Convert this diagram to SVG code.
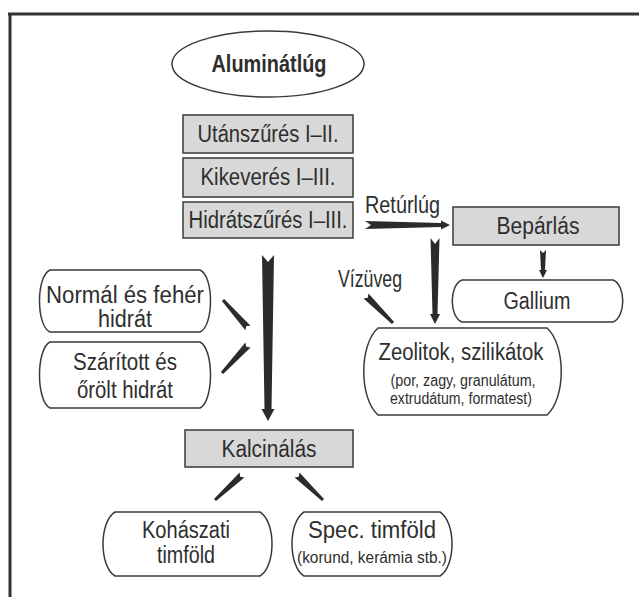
<svg xmlns="http://www.w3.org/2000/svg" width="639" height="597" viewBox="0 0 639 597">
  <style>
    .frame { fill: none; stroke: #333; stroke-width: 3; }
    .box { fill: #d8d8d8; stroke: #3a3a3a; stroke-width: 1.5; }
    .pill { fill: #ffffff; stroke: #3a3a3a; stroke-width: 1.5; }
    .lbl { font-family: "Liberation Sans", Arial, sans-serif; font-size: 23px; fill: #2e2e2e; text-anchor: middle; }
    .start { text-anchor: start; }
    .sm { font-size: 16px; }
    .bold { font-weight: bold; }
    .wedge { fill: #2b2b2b; }
  </style>
  <rect width="639" height="597" fill="#ffffff"/>

  <!-- outer frame (top and left edges) -->
  <path class="frame" d="M8,14 H639 M10,14 V597"/>

  <!-- source -->
  <g id="aluminatlug">
    <ellipse class="pill" cx="268" cy="64" rx="96" ry="33" stroke-width="1.8"/>
    <text class="lbl bold" x="269" y="72" textLength="115" lengthAdjust="spacingAndGlyphs">Aluminátlúg</text>
  </g>

  <!-- process steps -->
  <g id="utanszures">
    <rect class="box" x="183" y="115" width="170" height="38"/>
    <text class="lbl" x="268" y="142" textLength="141" lengthAdjust="spacingAndGlyphs">Utánszűrés I–II.</text>
  </g>
  <g id="kikeveres">
    <rect class="box" x="183" y="158" width="170" height="39"/>
    <text class="lbl" x="268" y="185" textLength="135" lengthAdjust="spacingAndGlyphs">Kikeverés I–III.</text>
  </g>
  <g id="hidratszures">
    <rect class="box" x="183" y="202" width="170" height="36"/>
    <text class="lbl" x="268" y="228" textLength="159" lengthAdjust="spacingAndGlyphs">Hidrátszűrés I–III.</text>
  </g>
  <g id="beparlas">
    <rect class="box" x="453" y="207" width="166" height="38"/>
    <text class="lbl" x="538" y="234" textLength="83" lengthAdjust="spacingAndGlyphs">Bepárlás</text>
  </g>
  <g id="gallium">
    <path class="pill" d="M462,280 H613 C626,285 626,317 613,322 H462 C449,317 449,285 462,280 Z"/>
    <text class="lbl" x="537" y="309" textLength="67" lengthAdjust="spacingAndGlyphs">Gallium</text>
  </g>
  <g id="normal-hidrat">
    <path class="pill" d="M50,270 H200 C214,276 214,326 200,332 H50 C36,326 36,276 50,270 Z"/>
    <text class="lbl" x="125" y="303" textLength="158" lengthAdjust="spacingAndGlyphs">Normál és fehér</text>
    <text class="lbl" x="125" y="327" textLength="54" lengthAdjust="spacingAndGlyphs">hidrát</text>
  </g>
  <g id="szaritott-hidrat">
    <path class="pill" d="M50,342 H200 C214,349 214,401 200,408 H50 C36,401 36,349 50,342 Z"/>
    <text class="lbl" x="125" y="370" textLength="104" lengthAdjust="spacingAndGlyphs">Szárított és</text>
    <text class="lbl" x="125" y="398" textLength="96" lengthAdjust="spacingAndGlyphs">őrölt hidrát</text>
  </g>
  <g id="zeolitok">
    <path class="pill" d="M378,328 H547 C566,345 566,398 547,415 H378 C359,398 359,345 378,328 Z"/>
    <text class="lbl" x="461" y="360" textLength="165" lengthAdjust="spacingAndGlyphs">Zeolitok, szilikátok</text>
    <text class="lbl sm" x="463" y="386" textLength="145" lengthAdjust="spacingAndGlyphs">(por, zagy, granulátum,</text>
    <text class="lbl sm" x="461" y="404" textLength="142" lengthAdjust="spacingAndGlyphs">extrudátum, formatest)</text>
  </g>
  <g id="kalcinalas">
    <rect class="box" x="185" y="430" width="168" height="37"/>
    <text class="lbl" x="269" y="457" textLength="95" lengthAdjust="spacingAndGlyphs">Kalcinálás</text>
  </g>
  <g id="kohaszati-timfold">
    <path class="pill" d="M115,512 H260 C276,522 276,566 260,576 H115 C99,566 99,522 115,512 Z"/>
    <text class="lbl" x="186" y="538" textLength="88" lengthAdjust="spacingAndGlyphs">Kohászati</text>
    <text class="lbl" x="186" y="563" textLength="58" lengthAdjust="spacingAndGlyphs">timföld</text>
  </g>
  <g id="spec-timfold">
    <path class="pill" d="M304,512 H440 C456,522 456,566 440,576 H304 C288,566 288,522 304,512 Z"/>
    <text class="lbl" x="372" y="538" textLength="128" lengthAdjust="spacingAndGlyphs">Spec. timföld</text>
    <text class="lbl sm" x="372" y="563" textLength="150" lengthAdjust="spacingAndGlyphs">(korund, kerámia stb.)</text>
  </g>

  <!-- connectors: notched, tapered wedge arrows -->
  <g id="connectors">
    <polygon class="wedge" points="262,255 268,262 274,255 271.5,409 274.5,409 268,421 261.5,409 264.5,409"/>
    <polygon class="wedge" points="365,221 371,225 365,229 441,227 441,229.5 450,225 441,220.5 441,223"/>
    <polygon class="wedge" points="430.5,238 435,244 439.5,238 437.5,314 440,314 435,324 430,314 432.5,314"/>
    <polygon class="wedge" points="540,250 543,253 546,250 545,270 547,270 543,278 539,270 541,270"/>
    <polygon class="wedge" points="250.6,325.7 246.3,326.1 245.4,330.3 221.9,301 224.1,299"/>
    <polygon class="wedge" points="245.4,342.6 246.3,346.8 250.6,347.4 223.1,374 220.9,372"/>
    <polygon class="wedge" points="363.5,298.5 367.8,297.8 368.5,293.5 394.1,321.9 391.9,324.1"/>
    <polygon class="wedge" points="239.6,472.4 240.2,476.7 244.4,477.6 216,501.1 214,498.9"/>
    <polygon class="wedge" points="294.6,477.5 298.8,476.7 299.4,472.5 324,498.9 322,501.1"/>
    <text class="lbl start" x="365" y="213" textLength="75" lengthAdjust="spacingAndGlyphs">Retúrlúg</text>
    <text class="lbl start" x="338" y="287" textLength="64" lengthAdjust="spacingAndGlyphs">Vízüveg</text>
  </g>
</svg>
